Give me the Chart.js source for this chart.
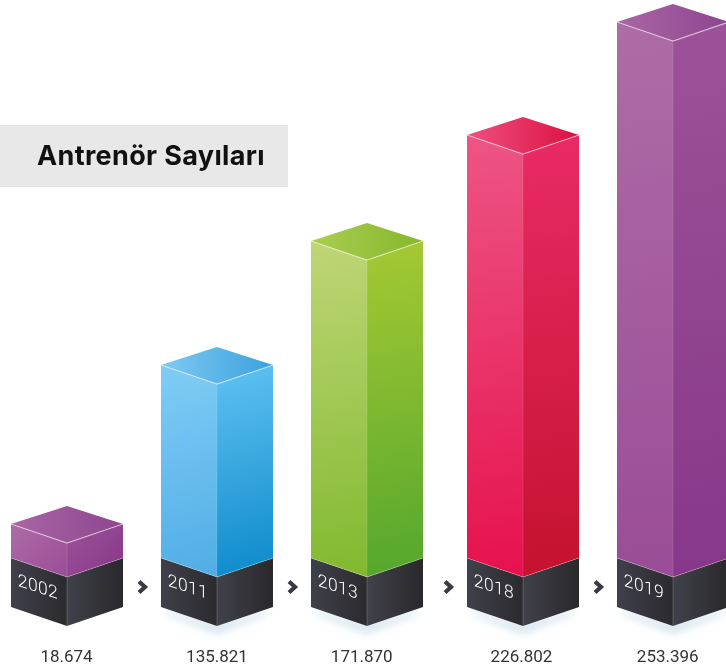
<!DOCTYPE html>
<html lang="tr">
<head>
<meta charset="utf-8">
<style>html,body{margin:0;padding:0;background:#fff}canvas{display:block}</style>
<script src="https://cdn.jsdelivr.net/npm/chart.js@4"></script>
</head>
<body>
<canvas id="c" width="726" height="671"></canvas>
<script>
const chartTitle = "Antrenör Sayıları";
const years = ["2002", "2011", "2013", "2018", "2019"];
const coachCounts = [18674, 135821, 171870, 226802, 253396];
// The picture is not drawn to scale, so the column heights are read off the picture separately.
const columnHeights = [34, 193, 317, 423, 536];
const plinthDepth = [-49, -49, -49, -49, -49];
// Category slots on the x axis (the gap before 2018 is a little wider in the picture).
const barSlots = [0, 1, 2, 3.04, 4.04];
const labelSlots = [-0.003, 1, 1.965, 3.03, 4.005];

const purple = {ltop:"#ae6ca6", lbot:"#9a4c97", rtop:"#9c5298", rbot:"#873789", ttop:"#a966a4", tbot:"#8e4590"};
const palette = [
  purple,
  {ltop:"#80ccf6", lbot:"#50ade5", rtop:"#60c2f3", rbot:"#0c89ca", ttop:"#7fc9f3", tbot:"#3aa2dc"},
  {ltop:"#bfd676", lbot:"#80b92f", rtop:"#a6c933", rbot:"#53a72d", ttop:"#abcd52", tbot:"#84b82a"},
  {ltop:"#ed5585", lbot:"#e6114d", rtop:"#ea2a66", rbot:"#c4122e", ttop:"#ee507f", tbot:"#dc1042"},
  purple
];
const HALF_RISE = 19;

function fillPoly(ctx, pts, fill) {
  ctx.beginPath();
  pts.forEach((p, i) => i ? ctx.lineTo(p[0], p[1]) : ctx.moveTo(p[0], p[1]));
  ctx.closePath();
  ctx.fillStyle = fill;
  ctx.fill();
}
function grad(ctx, x0, y0, x1, y1, a, b) {
  const g = ctx.createLinearGradient(x0, y0, x1, y1);
  g.addColorStop(0, a); g.addColorStop(1, b);
  return g;
}
function line(ctx, pts, color, w) {
  ctx.beginPath();
  pts.forEach((p, i) => i ? ctx.lineTo(p[0], p[1]) : ctx.moveTo(p[0], p[1]));
  ctx.strokeStyle = color; ctx.lineWidth = w; ctx.stroke();
}

const isoPlugin = {
  id: "iso",
  afterDatasetsDraw(chart) {
    const ctx = chart.ctx;
    const cols = chart.getDatasetMeta(0).data;
    const bases = chart.getDatasetMeta(1).data;

    // title band
    ctx.save();
    ctx.fillStyle = "#e8e8e8";
    ctx.fillRect(0, 125, 288, 62);
    ctx.fillStyle = "#111";
    ctx.font = "700 27px Inter, Roboto, sans-serif";
    ctx.textBaseline = "alphabetic";
    ctx.textAlign = "left";
    ctx.letterSpacing = "0px";
    const natural = ctx.measureText(chartTitle).width;
    ctx.letterSpacing = ((228 - natural) / chartTitle.length).toFixed(2) + "px";
    ctx.fillText(chartTitle, 37, 165);
    ctx.restore();

    cols.forEach((bar, i) => {
      const hw = bar.width / 2, cx = bar.x, top = bar.y, mid = bar.base;
      const low = bases[i].y, c = palette[i], L = cx - hw, R = cx + hw, h = HALF_RISE;
      ctx.save();

      // soft shadow under the plinth (absent under the first one in the picture)
      if (i > 0) {
        ctx.save();
        ctx.filter = "blur(4px)";
        fillPoly(ctx, [[L + 3, low - h + 2], [cx, low - 2], [R - 3, low - h + 2], [R - 8, low - h + 8], [cx, low + 8], [L + 8, low - h + 8]], "rgba(135,180,205,0.36)");
        ctx.restore();
      }

      // plinth
      fillPoly(ctx, [[L, mid - h], [cx, mid], [cx, low], [L, low - h]], grad(ctx, L, 0, cx, 0, "#40404a", "#2b2a2e"));
      fillPoly(ctx, [[cx, mid], [R, mid - h], [R, low - h], [cx, low]], grad(ctx, cx, 0, R, 0, "#41414a", "#29282b"));
      line(ctx, [[cx, mid], [cx, low]], "rgba(255,255,255,0.18)", 1);

      // column faces
      fillPoly(ctx, [[L, top - h], [cx, top], [cx, mid], [L, mid - h]], grad(ctx, L, top - h, cx, mid, c.ltop, c.lbot));
      fillPoly(ctx, [[cx, top], [R, top - h], [R, mid - h], [cx, mid]], grad(ctx, cx, top - h, R, mid, c.rtop, c.rbot));
      fillPoly(ctx, [[L, top - h], [cx, top - 2 * h + 1], [R, top - h], [cx, top]], grad(ctx, L, 0, R, 0, c.ttop, c.tbot));

      // highlights
      line(ctx, [[L, top - h], [cx, top], [R, top - h]], "rgba(255,255,255,0.5)", 1.3);
      line(ctx, [[cx, top], [cx, mid]], "rgba(255,255,255,0.12)", 1);
      line(ctx, [[L, mid - h], [cx, mid], [R, mid - h]], "rgba(255,255,255,0.25)", 1);

      // year printed on the plinth's left face
      ctx.save();
      ctx.translate(cx - 29, mid + 11);
      ctx.transform(1, 0.33, 0, 1, 0, 0);
      ctx.font = "300 17.5px Roboto, sans-serif";
      ctx.letterSpacing = "0.4px";
      ctx.fillStyle = "#ffffff";
      ctx.textAlign = "center";
      ctx.textBaseline = "middle";
      ctx.fillText(years[i], 0, 0);
      ctx.restore();

      // chevron towards the next block
      if (i < cols.length - 1) {
        const ax = (R + cols[i + 1].x - hw) / 2 + (i === 2 ? 3 : 0), ay = mid + 10;
        line(ctx, [[ax - 3, ay - 5.5], [ax + 3, ay], [ax - 3, ay + 5.5]], "#3a3a42", 4.2);
      }
      ctx.restore();
    });
  }
};

new Chart(document.getElementById("c"), {
  type: "bar",
  data: {
    labels: years,
    datasets: [
      {label: "Antrenör", data: barSlots.map((x, i) => ({x, y: columnHeights[i]})), backgroundColor: "rgba(0,0,0,0)", grouped: false, barThickness: 112},
      {label: "Yıl", data: barSlots.map((x, i) => ({x, y: plinthDepth[i]})), backgroundColor: "rgba(0,0,0,0)", grouped: false, barThickness: 112}
    ]
  },
  plugins: [isoPlugin],
  options: {
    responsive: false,
    animation: false,
    layout: {padding: 0},
    plugins: {legend: {display: false}, title: {display: false}, tooltip: {enabled: false}},
    scales: {
      x: {
        type: "linear",
        min: -67 / 150,
        max: 659 / 150,
        offset: false,
        border: {display: false},
        grid: {display: false, drawTicks: false},
        afterBuildTicks(scale) { scale.ticks = labelSlots.map(value => ({value})); },
        afterFit(scale) { scale.height = 26; },
        ticks: {
          autoSkip: false,
          maxRotation: 0,
          padding: 3,
          color: "#333",
          font: {family: "Roboto, sans-serif", size: 17},
          callback: (v, i) => String(coachCounts[i]).replace(/\B(?=(\d{3})+$)/g, ".")
        }
      },
      y: {type: "linear", min: -68, max: 577, display: false}
    }
  }
});
</script>
</body>
</html>
